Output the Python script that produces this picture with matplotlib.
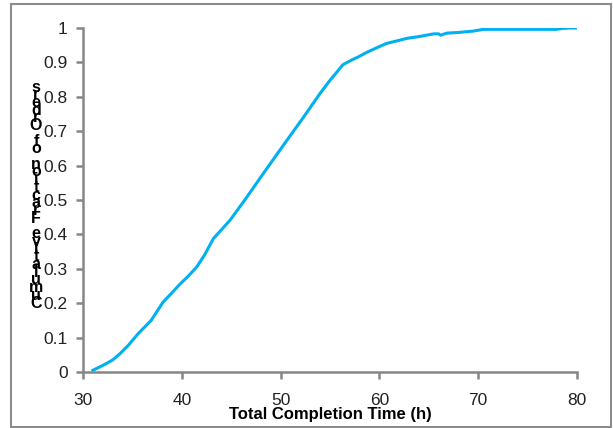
import matplotlib
matplotlib.use("Agg")
import matplotlib.pyplot as plt
from matplotlib.patches import Rectangle

# cumulative fraction of orders vs total completion time
time_h = [31.0, 31.5, 32.2, 33.0, 33.7, 34.6, 35.6, 36.9, 38.1, 39.0, 39.8, 40.7,
          41.5, 42.3, 43.2, 44.0, 44.9, 46.5, 48.2, 50.6, 52.3, 54.0, 55.0, 55.7,
          56.3, 57.2, 58.0, 58.7, 59.7, 60.7, 61.7, 62.8, 64.0, 65.5, 66.0, 66.2,
          66.8, 68.0, 69.5, 70.5, 72.0, 75.0, 77.9, 78.6, 79.3, 80.0]
cum_frac = [0.005, 0.012, 0.022, 0.035, 0.052, 0.078, 0.112, 0.150, 0.203, 0.230,
            0.255, 0.280, 0.305, 0.340, 0.388, 0.413, 0.442, 0.505, 0.575, 0.672,
            0.740, 0.810, 0.848, 0.872, 0.893, 0.907, 0.918, 0.929, 0.942, 0.955,
            0.962, 0.970, 0.975, 0.983, 0.983, 0.979, 0.985, 0.987, 0.991, 0.996,
            0.996, 0.996, 0.996, 0.999, 1.0, 1.0]

x_ticks = [30, 40, 50, 60, 70, 80]
y_ticks = [0, 0.1, 0.2, 0.3, 0.4, 0.5, 0.6, 0.7, 0.8, 0.9, 1]
y_labels = ["0", "0.1", "0.2", "0.3", "0.4", "0.5", "0.6", "0.7", "0.8", "0.9", "1"]
x_title = "Total Completion Time (h)"
y_title = "Cumulative Fraction of Orders"

plt.rcParams['font.family'] = ['Liberation Sans', 'DejaVu Sans']

W, H = 613, 428
fig = plt.figure(figsize=(W / 100, H / 100), dpi=100)
fig.patches.append(Rectangle((11 / W, 1 / H), 600 / W, 423 / H, transform=fig.transFigure,
                             fill=False, edgecolor='#8c8c8c', linewidth=1.5))

ax = fig.add_axes([83 / W, (H - 372) / H, 494 / W, 344 / H])
ax.plot(time_h, cum_frac, color='#00b0f0', linewidth=2.2)

ax.set_xlim(30, 80)
ax.set_ylim(0, 1)
ax.set_xticks(x_ticks)
ax.set_yticks(y_ticks)
ax.set_yticklabels(y_labels)
for s in ['top', 'right']:
    ax.spines[s].set_visible(False)
for s in ['left', 'bottom']:
    ax.spines[s].set_color('#868686')
    ax.spines[s].set_linewidth(1.8)
ax.tick_params(axis='both', color='#868686', width=1.8, length=5, labelsize=12.5,
               labelcolor='#222222')
ax.tick_params(axis='y', pad=6)
ax.tick_params(axis='x', pad=10)

fig.text(330 / W, 1 - 415 / H, x_title, ha='center', va='center',
         fontsize=12, fontweight='bold')

# y title drawn as upright stacked characters, bottom to top
chars = list(y_title)
top_y, bot_y = 87, 303
step = (bot_y - top_y) / (len(chars) - 1)
for i, ch in enumerate(chars):
    y = bot_y - i * step
    fig.text(36 / W, 1 - y / H, ch, ha='center', va='center',
             fontsize=11.5, fontweight='bold')

fig.savefig("out.png", dpi=100)
